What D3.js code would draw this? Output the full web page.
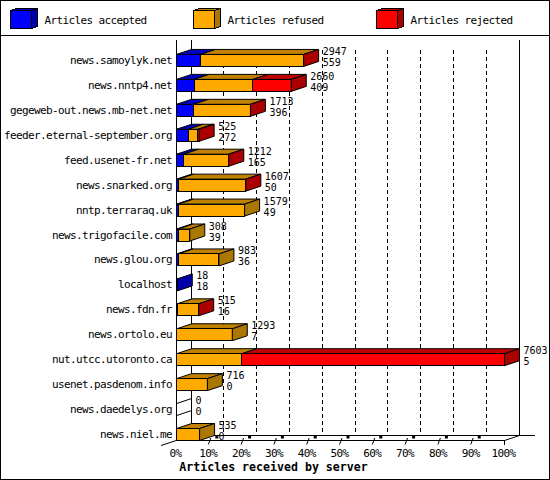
<!DOCTYPE html>
<html><head><meta charset="utf-8">
<script src="https://cdn.jsdelivr.net/npm/d3@7/dist/d3.min.js"></script>
<style>html,body{margin:0;padding:0;background:#fff}svg{display:block}
text{font-family:"DejaVu Sans Mono",monospace;font-size:11px;letter-spacing:-0.62px;fill:#000}
text.val{font-size:10px;letter-spacing:0}
</style></head><body><svg id="c" width="550" height="480"></svg>
<script>
const servers=["news.samoylyk.net","news.nntp4.net","gegeweb-out.news.mb-net.net","feeder.eternal-september.org","feed.usenet-fr.net","news.snarked.org","nntp.terraraq.uk","news.trigofacile.com","news.glou.org","localhost","news.fdn.fr","news.ortolo.eu","nut.utcc.utoronto.ca","usenet.pasdenom.info","news.daedelys.org","news.niel.me"];
const received=[2947,2660,1713,525,1212,1607,1579,308,983,18,515,1293,7603,716,0,535];
const accepted=[559,409,396,272,165,50,49,39,36,18,16,7,5,0,0,0];
const refused=[2378,1359,1310,225,1040,1550,1530,269,947,0,490,1286,1511,716,0,535];
const rejected=[10,892,7,28,7,7,0,0,0,0,9,0,6087,0,0,0];
const seriesNames=["Articles accepted","Articles refused","Articles rejected"];
const seriesFill=["#0000ff","#ffaa00","#ff0000"];
const seriesTop=["#0000c0","#c08000","#c00000"];
const seriesSide=["#0000a8","#aa7700","#aa0000"];
const xTicks=[0,10,20,30,40,50,60,70,80,90,100];
const xTitle="Articles received by server";

const svg=d3.select("#c");
const dx=15,dy=5,barH=12;
const x=d3.scaleLinear().domain([0,100]).range([176.5,504.5]);
const y=d3.scaleBand().domain(servers).range([41.5,440.5]);
const v=c=>x(c/7603*100);
const line=(a,b,c,d,extra)=>{const l=svg.append("line").attr("x1",a).attr("y1",b).attr("x2",c).attr("y2",d).attr("stroke","#000").attr("stroke-width",1).attr("shape-rendering","crispEdges");if(extra)l.attr("stroke-dasharray",extra);return l;};
svg.append("rect").attr("x",0.5).attr("y",0.5).attr("width",549).attr("height",479).attr("fill","#fff").attr("stroke","#000");
line(0,35.5,550,35.5);

// legend
const lx=[10.5,193.5,376.5];
seriesNames.forEach((n,i)=>{
  const X=lx[i],Y=10.5,W=20.5,H=18,d=6.5;
  const g=svg.append("g").attr("stroke","#000").attr("shape-rendering","crispEdges");
  g.append("polygon").attr("points",[[X,Y],[X+d,Y-2],[X+W+d,Y-2],[X+W,Y]].join(" ")).attr("fill",seriesTop[i]);
  g.append("polygon").attr("points",[[X+W,Y],[X+W+d,Y-2],[X+W+d,Y+H-2],[X+W,Y+H]].join(" ")).attr("fill",seriesSide[i]);
  g.append("rect").attr("x",X).attr("y",Y).attr("width",W).attr("height",H).attr("fill",seriesFill[i]);
  svg.append("text").attr("x",lx[i]+34).attr("y",23.5).text(n);
});

// back grid
line(x(0)+dx,40,x(0)+dx,435.5);
line(x(100)+dx,40,x(100)+dx,435.5);
xTicks.slice(1,-1).forEach(t=>{line(x(t)+dx-0.5,50,x(t)+dx-0.5,435,"4 3");});
line(x(0)+dx,435.5,535,435.5);
// floor
line(x(0),440.5,x(100),440.5);
svg.append("line").attr("x1",161).attr("y1",445.5).attr("x2",x(0)+dx).attr("y2",435.5).attr("stroke","#000");
svg.append("line").attr("x1",x(100)).attr("y1",440.5).attr("x2",x(100)+dx).attr("y2",435.5).attr("stroke","#000");
line(x(100),440.5,x(100),445);
xTicks.slice(1,-1).forEach(t=>{
  svg.append("line").attr("x1",x(t)-1).attr("y1",444.5).attr("x2",x(t)+1.5).attr("y2",438).attr("stroke","#000");
  svg.append("rect").attr("x",x(t)+6).attr("y",436).attr("width",3).attr("height",2.5);
});
line(x(0),440,x(0),40);

// bars
servers.forEach((s,i)=>{
  const b=y(s)+y.bandwidth(),t=b-barH;
  let c=0;
  const parts=[accepted[i],refused[i],rejected[i]];
  const g=svg.append("g").attr("stroke","#000");
  let last=-1,endX=x(0);
  parts.forEach((p,k)=>{ if(!p) return;
    const a=v(c),e=v(c+p);c+=p;last=k;endX=e;
    g.append("polygon").attr("points",[[a,t],[a+dx,t-dy],[e+dx,t-dy],[e,t]].join(" ")).attr("fill",seriesTop[k]).attr("stroke",(p/7603<0.003)?"none":"#000");
  });
  if(last>=0){
    c=0;
    parts.forEach((p,k)=>{ if(!p) return;
      const a=v(c),e=v(c+p);c+=p;
      g.append("rect").attr("x",a).attr("y",t).attr("width",e-a).attr("height",barH).attr("fill",seriesFill[k]).attr("shape-rendering","crispEdges");
    });
    g.append("polygon").attr("points",[[endX,t],[endX+dx,t-dy],[endX+dx,b-dy],[endX,b]].join(" ")).attr("fill",seriesSide[last]);
  } else {
    svg.append("line").attr("x1",x(0)).attr("y1",t).attr("x2",x(0)+dx).attr("y2",t-dy).attr("stroke","#000");
    svg.append("line").attr("x1",x(0)).attr("y1",b).attr("x2",x(0)+dx).attr("y2",b-dy).attr("stroke","#000");
  }
  svg.append("text").attr("x",172).attr("y",t+9.5).attr("text-anchor","end").text(s);
  const lab=endX+dx+4;
  svg.append("text").attr("class","val").attr("x",lab).attr("y",t+0.5).text(received[i]);
  svg.append("text").attr("class","val").attr("x",lab).attr("y",t+11.5).text(accepted[i]);
});

// ticks text
svg.append("g").selectAll("text").data(xTicks).join("text")
  .attr("x",d=>x(d)-1).attr("y",456.5).attr("text-anchor","middle").text(d=>d+"%");
svg.append("text").attr("x",273.5).attr("y",471).attr("text-anchor","middle")
  .style("font-weight","bold").style("font-size","11.6px").style("letter-spacing","0").text(xTitle);
</script></body></html>
